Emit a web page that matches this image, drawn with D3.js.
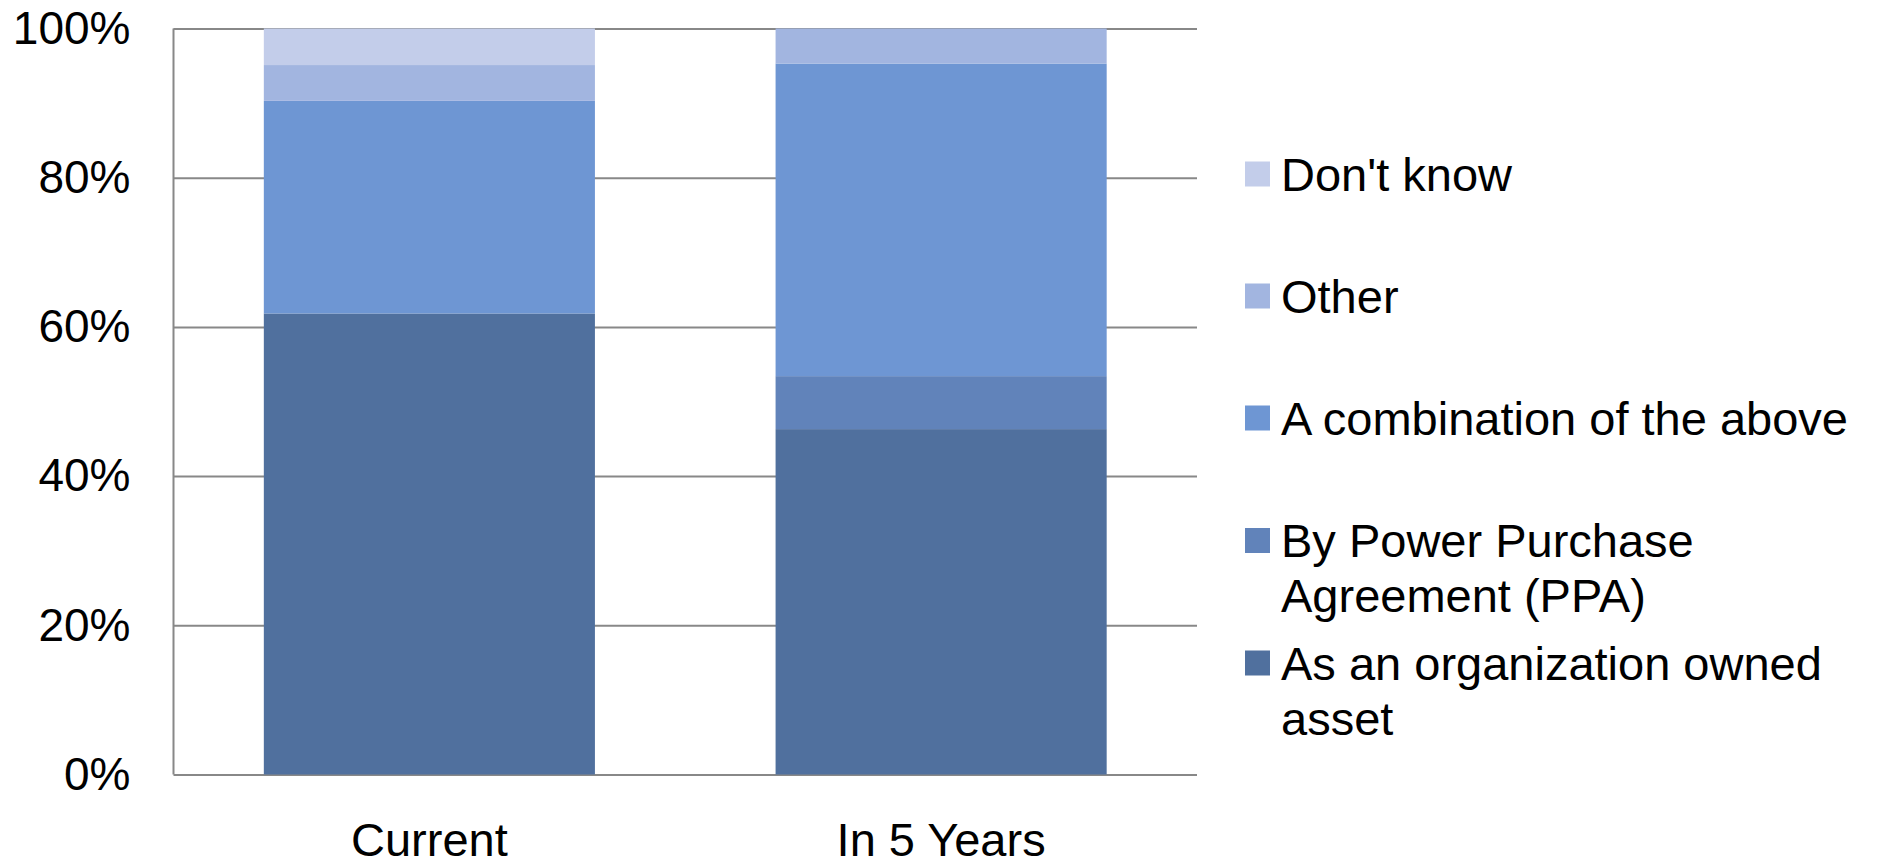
<!DOCTYPE html>
<html>
<head>
<meta charset="utf-8">
<script src="https://cdn.jsdelivr.net/npm/d3@7/dist/d3.min.js"></script>
<style>
  html, body { margin: 0; padding: 0; background: #ffffff; }
  svg { display: block; font-family: "Liberation Sans", Arial, sans-serif; }
</style>
</head>
<body>
<svg id="chart" width="1879" height="866"></svg>
<script>
// ---- data ----
const categories = ["Current", "In 5 Years"];
const seriesNames = ["As an organization owned asset", "By Power Purchase Agreement (PPA)", "A combination of the above", "Other", "Don't know"];
const ownedAsset = [61.8, 46.3];
const ppa = [0, 7.1];
const combination = [28.5, 41.9];
const other = [4.8, 4.7];
const dontKnow = [4.9, 0];
const yTicks = [0, 0.2, 0.4, 0.6, 0.8, 1.0];
const legendLabels = [
  ["Don't know"],
  ["Other"],
  ["A combination of the above"],
  ["By Power Purchase", "Agreement (PPA)"],
  ["As an organization owned", "asset"]
];
const legendKeys = ["Don't know", "Other", "A combination of the above", "By Power Purchase Agreement (PPA)", "As an organization owned asset"];

(function () {
// ---- styles ----
const colors = {
  "As an organization owned asset": "#50709E",
  "By Power Purchase Agreement (PPA)": "#6183BA",
  "A combination of the above": "#6E96D3",
  "Other": "#A2B5E0",
  "Don't know": "#C3CDEA"
};

const seriesValues = [ownedAsset, ppa, combination, other, dontKnow];
const rows = categories.map((c, i) => {
  const r = { category: c };
  const total = d3.sum(seriesValues, s => s[i]);
  seriesNames.forEach((n, k) => { r[n] = seriesValues[k][i] / total; });
  return r;
});

const svg = d3.select("#chart");
const pLeft = 173.5, pRight = 1197, pTop = 28.5, pBottom = 774.5;

const x = d3.scaleBand().domain(categories).range([pLeft, pRight])
  .paddingInner(0.353).paddingOuter(0.1765);
const y = d3.scaleLinear().domain([0, 1]).range([pBottom, pTop]);

// gridlines
const grid = svg.append("g").attr("transform", `translate(${pLeft},0)`)
  .call(d3.axisLeft(y).tickValues(yTicks).tickSize(-(pRight - pLeft)).tickFormat(""));
grid.select(".domain").remove();
grid.selectAll(".tick line").attr("stroke", "#888888").attr("stroke-width", 2);

// left axis line
svg.append("line").attr("x1", pLeft).attr("x2", pLeft).attr("y1", y(1)).attr("y2", y(0))
  .attr("stroke", "#888888").attr("stroke-width", 2);

// stacked bars
const stacked = d3.stack().keys(seriesNames)(rows);
svg.append("g").selectAll("g").data(stacked).join("g")
  .attr("fill", d => colors[d.key])
  .selectAll("rect").data(d => d).join("rect")
  .attr("x", d => x(d.data.category))
  .attr("width", x.bandwidth())
  .attr("y", d => y(d[1]))
  .attr("height", d => Math.max(0, y(d[0]) - y(d[1])));

// y tick labels
const yAxis = svg.append("g").attr("transform", `translate(${pLeft},0)`)
  .call(d3.axisLeft(y).tickValues(yTicks).tickSize(0).tickPadding(43).tickFormat(d3.format(".0%")));
yAxis.select(".domain").remove();
yAxis.selectAll("text").attr("font-size", 46).attr("fill", "#000")
  .attr("font-family", "Liberation Sans, Arial, sans-serif");

// x axis labels
const xAxis = svg.append("g").attr("transform", `translate(0,${pBottom})`)
  .call(d3.axisBottom(x).tickSize(0).tickPadding(0));
xAxis.select(".domain").remove();
xAxis.selectAll("text").attr("font-size", 47).attr("fill", "#000")
  .attr("dy", null).attr("y", 81)
  .attr("font-family", "Liberation Sans, Arial, sans-serif");

// legend
const legendCenters = [174, 296, 418, 540.5, 663];
const lg = svg.append("g");
legendKeys.forEach((k, i) => {
  const cy = legendCenters[i];
  lg.append("rect").attr("x", 1245).attr("y", cy - 12.5).attr("width", 25).attr("height", 25)
    .attr("fill", colors[k]);
  const t = lg.append("text").attr("x", 1281).attr("y", cy + 16.5)
    .attr("font-size", 47).attr("fill", "#000");
  legendLabels[i].forEach((line, j) => {
    t.append("tspan").attr("x", 1281).attr("y", cy + 16.5 + j * 55).text(line);
  });
});
})();
</script>
</body>
</html>
